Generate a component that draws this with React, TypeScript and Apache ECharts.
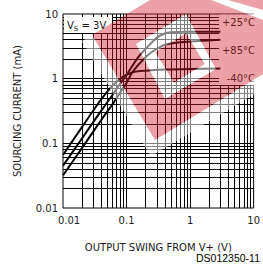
import React, { useEffect, useRef } from 'react';
import * as echarts from 'echarts';

// ---- data ----
const xTickLabels = ['0.01', '0.1', '1', '10'];
const yTickLabels = ['0.01', '0.1', '1', '10'];
const seriesNames = ['+25°C', '+85°C', '-40°C'];

const swing25 = [0.01, 0.02, 0.04, 0.06, 0.08, 0.1, 0.15, 0.2, 0.3, 0.4, 0.5, 0.8, 3];
const current25 = [0.045, 0.12, 0.32, 0.56, 0.85, 1.15, 2.1, 2.9, 4.3, 5.0, 5.2, 5.3, 5.3];

const swing85 = [0.01, 0.02, 0.04, 0.06, 0.08, 0.1, 0.12, 0.15, 0.22, 0.3, 0.4, 0.6, 1, 3];
const current85 = [0.032, 0.085, 0.23, 0.4, 0.62, 0.86, 1.2, 1.6, 2.35, 2.9, 3.35, 3.6, 3.75, 4.0];

const swingM40 = [0.01, 0.02, 0.04, 0.06, 0.08, 0.1, 0.13, 0.2, 0.4, 1, 3];
const currentM40 = [0.066, 0.18, 0.48, 0.78, 1.0, 1.15, 1.27, 1.33, 1.38, 1.41, 1.43];

const FONT = 'DejaVu Sans';
const INK = '#1a1a1a';

// ---- watermark geometry (decoration, pixel space) ----
const wmOuter = [[92, 35], [150, 0], [211, 0], [263, 20], [263, 74], [155, 140]];
const wmHole = [[186, 14], [216, 69], [165, 99], [136, 44]];
const wmInner = [[186.1, 33.3], [204.7, 64.1], [173.9, 82.7], [155.3, 51.9]];
const wmTopTri = [[228, 0], [263, 0], [263, 10]];
const wmBand = [[92, 35], [155, 140], [263, 74], [263, 89], [150.9, 156.5], [81.7, 41.2]];
const wmTopBand = [[211, 0], [228, 0], [263, 10], [263, 20]];

function ring(pts: number[][], reverse: boolean) {
  let a = 0;
  for (let i = 0; i < pts.length; i++) {
    const p = pts[i];
    const q = pts[(i + 1) % pts.length];
    a += p[0] * q[1] - q[0] * p[1];
  }
  const cw = a > 0;
  const p = cw === reverse ? [...pts].reverse() : pts;
  return 'M' + p.map((q) => q[0] + ' ' + q[1]).join(' L') + ' Z ';
}

const dRed = ring(wmOuter, false) + ring(wmHole, true) + ring(wmInner, false) + ring(wmTopTri, false);
const dWhite = ring(wmHole, false) + ring(wmInner, true) + ring(wmBand, false) + ring(wmTopBand, false);

echarts.graphic.registerShape('wmRed', echarts.graphic.extendPath(dRed, {}));
echarts.graphic.registerShape('wmWhite', echarts.graphic.extendPath(dWhite, {}));

function pairs(xs: number[], ys: number[]) {
  return xs.map((x, i) => [x, ys[i]]);
}

function tickLabel(labels: string[]) {
  return (v: number) => {
    const i = Math.round(Math.log10(v)) + 2;
    return labels[i] ?? '';
  };
}

export default function App() {
  const ref = useRef<HTMLDivElement>(null);

  useEffect(() => {
    const chart = echarts.init(ref.current!, null, { renderer: 'svg' });

    const gridVals: number[] = [];
    [0.01, 0.1, 1].forEach((dec) => {
      for (let k = 1; k <= 9; k++) {
        const v = +(k * dec).toPrecision(6);
        if (v > 0.01) gridVals.push(v);
      }
    });
    const gridLines = [
      ...gridVals.map((v) => ({ xAxis: v })),
      ...gridVals.map((v) => ({ yAxis: v })),
    ];
    // vertical grid segments visible between the temperature labels
    const segX = [3, 4, 5, 6, 7, 8, 9];
    const segs: any[] = [];
    segX.forEach((v) => {
      segs.push([{ coord: [v, 5.84] }, { coord: [v, 3.43] }]);
      segs.push([{ coord: [v, 2.16] }, { coord: [v, 1.31] }]);
    });

    const curveStyle = { color: '#000', width: 2 };
    const curves = [
      pairs(swing25, current25),
      pairs(swing85, current85),
      pairs(swingM40, currentM40),
    ];

    const labelY = [22.5, 50.5, 78];

    chart.setOption({
      animation: false,
      backgroundColor: '#fff',
      grid: {
        left: 63,
        top: 14,
        right: 5,
        bottom: 59,
        show: true,
        borderColor: '#000',
        borderWidth: 1,
      },
      xAxis: {
        type: 'log',
        logBase: 10,
        min: 0.01,
        max: 10,
        axisLine: { show: false },
        axisTick: { show: false },
        splitLine: { show: false },
        axisLabel: {
          margin: 7,
          formatter: (v: number) => {
            const s = tickLabel(xTickLabels)(v);
            return s === xTickLabels[0] ? '{first|' + s + '}' : '{n|' + s + '}';
          },
          rich: {
            first: { fontFamily: FONT, fontSize: 10, color: INK, padding: [0, 0, 0, 12] },
            n: { fontFamily: FONT, fontSize: 10, color: INK },
          },
        },
        name: 'OUTPUT SWING FROM V+ (V)',
        nameLocation: 'middle',
        nameGap: 34,
        nameTextStyle: { fontFamily: FONT, fontSize: 10, color: INK },
      },
      yAxis: {
        type: 'log',
        logBase: 10,
        min: 0.01,
        max: 10,
        axisLine: { show: false },
        axisTick: { show: false },
        splitLine: { show: false },
        axisLabel: {
          margin: 5,
          fontFamily: FONT,
          fontSize: 10,
          color: INK,
          formatter: tickLabel(yTickLabels),
        },
        name: 'SOURCING CURRENT (mA)',
        nameLocation: 'middle',
        nameGap: 41,
        nameTextStyle: { fontFamily: FONT, fontSize: 10, color: INK },
      },
      series: [
        {
          type: 'line',
          data: [[0.01, 0.01]],
          showSymbol: false,
          lineStyle: { opacity: 0 },
          silent: true,
          z: 2,
          markLine: {
            silent: true,
            symbol: ['none', 'none'],
            label: { show: false },
            lineStyle: { color: '#000', width: 1, type: 'solid' },
            emphasis: { disabled: true },
            data: gridLines,
          },
        },
        {
          type: 'line',
          data: [[0.01, 0.01]],
          showSymbol: false,
          lineStyle: { opacity: 0 },
          silent: true,
          z: 20,
          markLine: {
            silent: true,
            symbol: ['none', 'none'],
            label: { show: false },
            lineStyle: { color: '#000', width: 1, type: 'solid' },
            emphasis: { disabled: true },
            data: segs,
          },
        },
        ...curves.map((d, i) => ({
          name: seriesNames[i],
          type: 'line',
          data: d,
          showSymbol: false,
          smooth: 0.3,
          lineStyle: curveStyle,
          silent: true,
          z: 20,
        })),
      ],
      graphic: [
        // white background of the V_S note
        { type: 'rect', z: 10, silent: true, shape: { x: 64, y: 17, width: 48, height: 16 }, style: { fill: '#fff' } },
        {
          type: 'text',
          z: 50,
          silent: true,
          x: 67,
          y: 25,
          style: {
            text: '{v|V}{s|S}{v| = 3V}',
            verticalAlign: 'middle',
            rich: {
              v: { fontFamily: FONT, fontSize: 10, fill: INK, lineHeight: 14, verticalAlign: 'middle' },
              s: { fontFamily: FONT, fontSize: 7, fill: INK, lineHeight: 14, verticalAlign: 'bottom' },
            },
          },
        },
        // white background behind temperature labels
        { type: 'rect', z: 10, silent: true, shape: { x: 219, y: 14.5, width: 38, height: 70.5 }, style: { fill: '#fff' } },
        ...seriesNames.map((t, i) => ({
          type: 'text',
          z: 50,
          silent: true,
          x: 255,
          y: labelY[i],
          style: { text: t, align: 'right', verticalAlign: 'middle', fontFamily: FONT, fontSize: 10, fill: INK },
        })),
        {
          type: 'text',
          z: 50,
          silent: true,
          x: 260,
          y: 258,
          style: { text: 'DS012350-11', align: 'right', verticalAlign: 'middle', fontFamily: 'Liberation Sans', fontSize: 10.5, fill: '#000' },
        },
        // watermark
        { type: 'wmWhite', z: 100, silent: true, x: 0, y: 0, style: { fill: 'rgba(255,255,255,0.5)' } },
        { type: 'wmRed', z: 100, silent: true, x: 0, y: 0, style: { fill: 'rgba(205,30,45,0.42)' } },
      ],
    });

    return () => chart.dispose();
  }, []);

  return <div ref={ref} style={{ position: 'fixed', left: 0, top: 0, width: 263, height: 267 }} />;
}
